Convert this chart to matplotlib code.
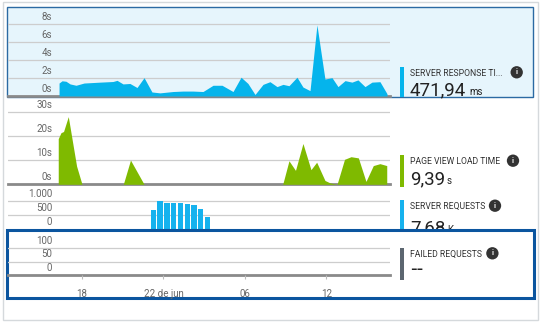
import matplotlib
matplotlib.use('Agg')
import matplotlib.pyplot as plt
from matplotlib.patches import Rectangle

plt.rcParams['font.family'] = ['Roboto', 'DejaVu Sans']

# time axis: hours counted from 21 jun 00:00
resp_t = [16.31, 16.53, 16.82, 17.12, 17.56, 18.15, 19.33, 20.28, 20.58, 21.02,
          21.53, 22.05, 22.57, 23.15, 23.74, 24.70, 25.44, 26.17, 26.91, 27.65,
          28.31, 29.12, 29.71, 30.22, 30.74, 31.33, 31.84, 32.36, 32.80, 33.24,
          33.83, 34.27, 34.79, 35.30, 35.89, 36.41, 36.85, 37.37, 37.88, 38.32,
          38.84, 39.35, 39.94, 40.46]
resp_s = [1.45, 1.7, 1.65, 1.35, 1.2, 1.45, 1.55, 1.62, 1.75, 1.35,
          1.4, 0.95, 2.05, 0.45, 0.35, 0.5, 0.55, 0.55, 0.5, 1.2,
          1.2, 0.5, 2.1, 1.4, 0.17, 1.3, 1.6, 1.05, 1.3, 1.15,
          2.1, 1.0, 0.6, 7.95, 1.9, 2.05, 1.05, 1.72, 1.55, 1.8,
          1.05, 1.55, 1.6, 0.25]

pv_t = [16.25, 16.45, 16.64, 16.99, 17.60, 18.00, 21.04, 21.57, 22.57, 32.78,
        33.24, 33.72, 34.27, 34.86, 35.28, 35.89, 36.26, 36.78, 37.33, 37.81,
        38.35, 38.91, 39.45, 39.94, 40.44]
pv_s = [19.0, 21.5, 22.0, 28.2, 7.6, 0, 0, 10.1, 0, 0,
        9.8, 5.8, 17.0, 6.1, 9.2, 1.6, 0.6, 0, 10.4, 11.5,
        11.0, 1.2, 7.8, 8.6, 7.8]

req_t = [23.25, 23.75, 24.25, 24.75, 25.25, 25.75, 26.25, 26.75, 27.25]
req_n = [680, 1005, 920, 920, 920, 905, 857, 700, 440]

x_ticks = [18, 24, 30, 36]
x_labels = ['18', '22 de jun', '06', '12']

W, H = 542, 323
fig = plt.figure(figsize=(W / 100, H / 100), dpi=100)
XLIM = (12.55, 40.68)


def fx(px):
    return px / W


def fy(py):
    return 1 - py / H


def prect(x0, y0, x1, y1, **kw):
    r = Rectangle((fx(x0), fy(y1)), (x1 - x0) / W, (y1 - y0) / H,
                  transform=fig.transFigure, **kw)
    fig.add_artist(r)
    return r


def chart(top, zero, ymax, ticks, labels, base=True):
    ax = fig.add_axes([fx(8), fy(zero), fx(390) - fx(8), (zero - top) / H])
    ax.set_xlim(*XLIM)
    ax.set_ylim(0, ymax)
    ax.patch.set_visible(False)
    for s in ax.spines.values():
        s.set_visible(False)
    ax.set_yticks([])
    ax.set_xticks([])
    for v, l in zip(ticks, labels):
        if v:
            ax.axhline(v, color='#cdcdcd', lw=0.9, zorder=0)
        ax.annotate(l, (0.1152, v), xycoords=ax.get_yaxis_transform(),
                    xytext=(0, 3.0), textcoords='offset points',
                    ha='right', va='baseline', fontsize=7, color='#666666')
    if base:
        ax.axhline(0, color='#8a8a8a', lw=2, clip_on=False, zorder=1)
    return ax


# outer tile and highlighted top panel
prect(3, 2, 538, 320, fc='none', ec='#d5d9dc', lw=1, zorder=-2)
prect(7, 7, 533, 97, fc='#e6f5fc', ec='#2b6aa3', lw=1, zorder=-1)

# server response time
ax1 = chart(10, 96, 86 / 8.94, [0, 2, 4, 6, 8], ['0s', '2s', '4s', '6s', '8s'])
ax1.fill_between(resp_t, resp_s, 0, color='#05b4ec', lw=0, zorder=2)

# page view load time
ax2 = chart(100, 184.3, 84.3 / 2.4, [0, 10, 20, 30], ['0s', '10s', '20s', '30s'])
ax2.fill_between(pv_t, pv_s, 0, color='#7fba00', lw=0, zorder=2)

# server requests
ax3 = chart(188, 229, 41 / 0.028, [0, 500, 1000], ['0', '500', '1.000'], base=False)
ax3.bar(req_t, req_n, width=0.39, color='#16b2ee', lw=0, zorder=2)

# failed requests, selected box
prect(7, 230, 534, 298, fc='white', ec='#0b559f', lw=2.2, zorder=2)
ax4 = chart(234, 275, 41 / 0.27, [0, 50, 100], ['0', '50', '100'])
ax4.set_zorder(3)
ax4.set_xticks(x_ticks, x_labels)
ax4.tick_params(axis='x', length=3, width=0.8, color='#bbbbbb', pad=7,
                labelsize=7, labelcolor='#666666')


def info(x, y, z=4):
    fig.text(fx(x), fy(y), 'i', ha='center', va='center', fontsize=5.2,
             fontweight='bold', color='white', zorder=z,
             bbox=dict(boxstyle='circle,pad=0.3', fc='#333333', ec='none'))


def tile(y_bar0, y_bar1, color, title, y_title, x_info, value, y_val,
         unit, x_unit, z=4, family=None):
    prect(400, y_bar0, 404, y_bar1, fc=color, ec='none', zorder=z)
    fig.text(fx(410.5), fy(y_title), title, fontsize=6.2, va='center',
             color='#333333', zorder=z)
    info(x_info, y_title - 1, z)
    fig.text(fx(410), fy(y_val), value, fontsize=13.5, va='baseline',
             color='#222222', zorder=z, family=family)
    if unit:
        fig.text(fx(x_unit), fy(y_val), unit, fontsize=7, va='baseline',
                 color='#222222', zorder=z)


tile(67, 97, '#05b4ec', 'SERVER RESPONSE TI...', 73.3, 516.7,
     '471,94', 95, 'ms', 469)
tile(155, 187, '#7fba00', 'PAGE VIEW LOAD TIME', 161.7, 513,
     '9,39', 184, 's', 447)
tile(200, 229, '#16b2ee', 'SERVER REQUESTS', 206.7, 495,
     '7,68', 233, 'K', 447, z=1)
tile(248, 279.5, '#5c6670', 'FAILED REQUESTS', 254.3, 492.4,
     '--', 275, '', 0, family=['DejaVu Sans'])

fig.savefig('out.png', dpi=100)
